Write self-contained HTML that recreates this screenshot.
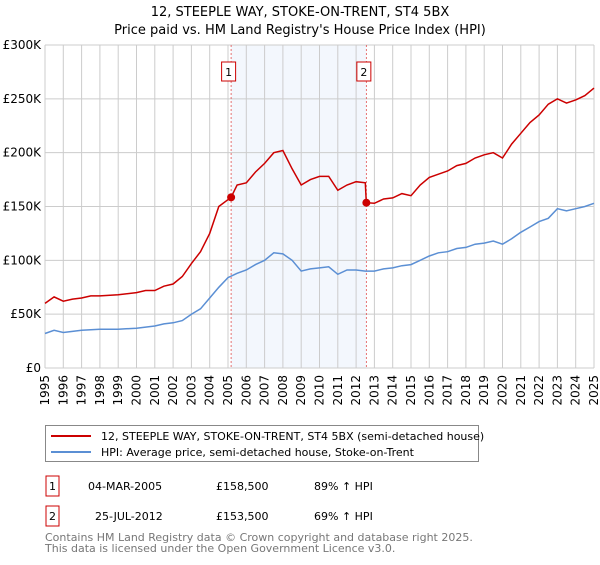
<!DOCTYPE html>
<html><head><meta charset="utf-8">
<style>
body{margin:0;background:#fff;font-family:"Liberation Sans","DejaVu Sans",sans-serif;}
svg text{font-family:"DejaVu Sans","Liberation Sans",sans-serif;}
</style></head>
<body>
<svg id="chart" width="600" height="560" viewBox="0 0 600 560" xmlns="http://www.w3.org/2000/svg">
<text x="300" y="16" text-anchor="middle" font-size="13">12, STEEPLE WAY, STOKE-ON-TRENT, ST4 5BX</text>
<text x="300" y="34" text-anchor="middle" font-size="13">Price paid vs. HM Land Registry's House Price Index (HPI)</text>
<g id="grid"></g><g id="series"></g><g id="axes"></g>
<g>
<rect x="45.5" y="425.5" width="433" height="36" fill="#fff" stroke="#888"/>
<line x1="51" y1="436" x2="91" y2="436" stroke="#cc0000" stroke-width="2"/>
<text x="101" y="440" font-size="11">12, STEEPLE WAY, STOKE-ON-TRENT, ST4 5BX (semi-detached house)</text>
<line x1="51" y1="452" x2="91" y2="452" stroke="#5b8fd4" stroke-width="2"/>
<text x="101" y="456" font-size="11">HPI: Average price, semi-detached house, Stoke-on-Trent</text>
</g>
<g font-size="11">
<rect x="46" y="476" width="13" height="20" fill="none" stroke="#cc0000"/>
<text x="52.5" y="490" text-anchor="middle">1</text>
<text x="88" y="490">04-MAR-2005</text><text x="216" y="490">£158,500</text><text x="314" y="490">89% ↑ HPI</text>
</g>
<g font-size="11">
<rect x="46" y="506" width="13" height="20" fill="none" stroke="#cc0000"/>
<text x="52.5" y="520" text-anchor="middle">2</text>
<text x="95" y="520">25-JUL-2012</text><text x="216" y="520">£153,500</text><text x="314" y="520">69% ↑ HPI</text>
</g>
<text x="45" y="541" font-size="11" fill="#777">Contains HM Land Registry data © Crown copyright and database right 2025.</text>
<text x="45" y="552" font-size="11" fill="#777">This data is licensed under the Open Government Licence v3.0.</text>
</svg>
<script>
const hpiYears=[1995,1995.5,1996,1996.5,1997,1997.5,1998,1999,2000,2000.5,2001,2001.5,2002,2002.5,2003,2003.5,2004,2004.5,2005,2005.5,2006,2006.5,2007,2007.5,2008,2008.5,2009,2009.5,2010,2010.5,2011,2011.5,2012,2012.5,2013,2013.5,2014,2014.5,2015,2015.5,2016,2016.5,2017,2017.5,2018,2018.5,2019,2019.5,2020,2020.5,2021,2021.5,2022,2022.5,2023,2023.5,2024,2024.5,2025];
const hpiValues=[32,35,33,34,35,35.5,36,36,37,38,39,41,42,44,50,55,65,75,84,88,91,96,100,107,106,100,90,92,93,94,87,91,91,90,90,92,93,95,96,100,104,107,108,111,112,115,116,118,115,120,126,131,136,139,148,146,148,150,153];
const priceYears=[1995,1995.5,1996,1996.5,1997,1997.5,1998,1999,2000,2000.5,2001,2001.5,2002,2002.5,2003,2003.5,2004,2004.5,2005.17,2005.5,2006,2006.5,2007,2007.5,2008,2008.5,2009,2009.5,2010,2010.5,2011,2011.5,2012,2012.5,2012.56,2013,2013.5,2014,2014.5,2015,2015.5,2016,2016.5,2017,2017.5,2018,2018.5,2019,2019.5,2020,2020.5,2021,2021.5,2022,2022.5,2023,2023.5,2024,2024.5,2025];
const priceValues=[60,66,62,64,65,67,67,68,70,72,72,76,78,85,97,108,125,150,158.5,170,172,182,190,200,202,185,170,175,178,178,165,170,173,172,153.5,153,157,158,162,160,170,177,180,183,188,190,195,198,200,195,208,218,228,235,245,250,246,249,253,260];
const saleYears=[2005.17,2012.56];
const saleValues=[158.5,153.5];
const saleLabels=["1","2"];
const yTicks=[0,50,100,150,200,250,300];
const yTickLabels=["£0","£50K","£100K","£150K","£200K","£250K","£300K"];
const xTicks=[1995,1996,1997,1998,1999,2000,2001,2002,2003,2004,2005,2006,2007,2008,2009,2010,2011,2012,2013,2014,2015,2016,2017,2018,2019,2020,2021,2022,2023,2024,2025];

const NS="http://www.w3.org/2000/svg";
const L=45,R=594,T=45,B=368;
const xs=y=>L+(y-1995)/30*(R-L);
const ys=v=>B-v/300*(B-T);
function mk(tag,attrs,parent){const e=document.createElementNS(NS,tag);for(const k in attrs)e.setAttribute(k,attrs[k]);document.getElementById(parent).appendChild(e);return e;}

const shade=mk('rect',{x:xs(saleYears[0]),y:T,width:xs(saleYears[1])-xs(saleYears[0]),height:B-T,fill:'#eef3fc',opacity:0.7},'grid');


yTicks.forEach((v,i)=>{
  const g=mk('line',{x1:L,x2:R,y1:ys(v),y2:ys(v),stroke:'#ccc'},'grid');
  
  
  const t=mk('text',{x:L-4,y:ys(v)+4,'text-anchor':'end','font-size':12},'axes');
  t.textContent=yTickLabels[i];
  
  
});
xTicks.forEach(y=>{
  const g=mk('line',{x1:xs(y),x2:xs(y),y1:T,y2:B,stroke:'#ccc'},'grid');
  
  
  const tx=xs(y)+4, ty=B+7;
  const t=mk('text',{x:tx,y:ty,'text-anchor':'end','font-size':12,transform:'rotate(-90 '+tx+' '+ty+')'},'axes');
  t.textContent=y;
  
  
});
saleYears.forEach((y,i)=>{
  const l=mk('line',{x1:xs(y),x2:xs(y),y1:T,y2:B,stroke:'#e05050','stroke-dasharray':'2,2','stroke-width':0.8},'grid');
  
  
  const bx=xs(y)-2.5;
  const r=mk('rect',{x:bx-7,y:62,width:14,height:19,fill:'#fff',stroke:'#cc0000'},'axes');
  
  
  const t=mk('text',{x:bx,y:76,'text-anchor':'middle','font-size':11},'axes');
  t.textContent=saleLabels[i];
  
  
});
function path(xsArr,vals,color,name){
  const d=xsArr.map((y,i)=>(i?'L':'M')+xs(y).toFixed(1)+','+ys(vals[i]).toFixed(1)).join('');
  const p=mk('path',{d:d,fill:'none',stroke:color,'stroke-width':1.5},'series');
  
  
}
path(hpiYears,hpiValues,'#5b8fd4','hpi-line');
path(priceYears,priceValues,'#cc0000','price-paid-line');
saleYears.forEach((y,i)=>{
  const c=mk('circle',{cx:xs(y),cy:ys(saleValues[i]),r:4,fill:'#cc0000'},'series');
  
  
});
</script>
</body></html>
